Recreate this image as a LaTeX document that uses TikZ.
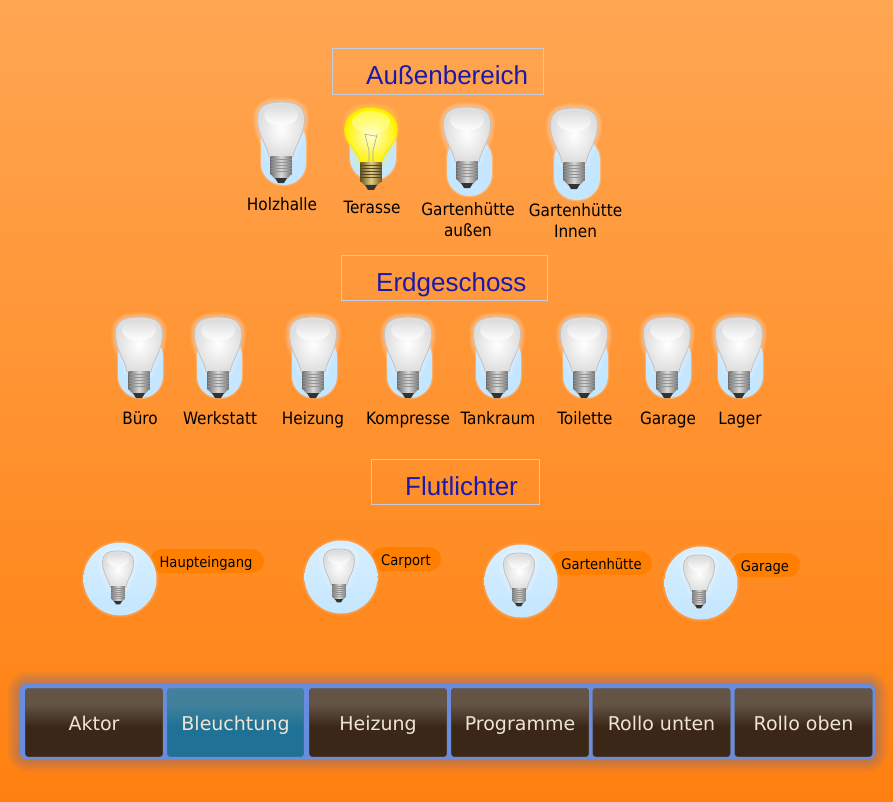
\documentclass[tikz,border=0pt]{standalone}
\usepackage{fontspec}
\setmainfont{DejaVu Sans Condensed}
\newfontfamily\titlefont{Liberation Sans}
\newfontfamily\menufont{DejaVu Sans}
\definecolor{BgTop}{RGB}{255,166,82}
\definecolor{BgBot}{RGB}{255,128,16}
\definecolor{TitleBlue}{RGB}{26,26,170}
\definecolor{TitleLine}{RGB}{196,204,226}
\definecolor{Pill}{RGB}{196,230,255}
\definecolor{Tag}{RGB}{255,128,0}
\definecolor{Bar}{RGB}{104,140,222}
\definecolor{MenuText}{RGB}{238,228,214}
\definecolor{BrownA}{RGB}{59,39,24}
\definecolor{BrownB}{RGB}{98,83,69}
\definecolor{BrownC}{RGB}{102,88,74}
\definecolor{BlueA}{RGB}{31,114,149}
\definecolor{BlueB}{RGB}{64,128,155}
\definecolor{BlueC}{RGB}{68,131,155}
\definecolor{Gold}{RGB}{150,125,50}
\definecolor{GoldLight}{RGB}{225,205,130}
\pgfdeclareverticalshading{btnbrown}{100bp}{color(0bp)=(BrownA);color(47bp)=(BrownA);color(63bp)=(BrownB);color(100bp)=(BrownC)}
\pgfdeclareverticalshading{btnblue}{100bp}{color(0bp)=(BlueA);color(47bp)=(BlueA);color(63bp)=(BlueB);color(100bp)=(BlueC)}
\tikzset{
  lamplabel/.style={font=\fontsize{17}{21}\selectfont,align=center,text=black,inner sep=0pt,anchor=base},
  taglabel/.style={font=\fontsize{14.6}{16}\selectfont,text=black,inner sep=0pt,anchor=base},
  titlebox/.style={draw=TitleLine,line width=.8pt,inner sep=0pt},
  titletext/.style={font=\titlefont\fontsize{26}{30}\selectfont,text=TitleBlue,inner sep=0pt,anchor=base west},
  menubtn/.style={shade,shading=btnbrown,draw=BrownB,rounded corners=3pt,minimum width=137.5pt,minimum height=68.5pt,
    inner sep=0pt,text=MenuText,font=\menufont\fontsize{19}{22}\selectfont,text height=17pt,text depth=2pt}
}
\newcommand{\glasspath}{(-12,55) .. controls (-14,42) and (-23.5,34) .. (-23.5,17) .. controls (-23.5,3) and (-14,0) .. (0,0)
  .. controls (14,0) and (23.5,3) .. (23.5,17) .. controls (23.5,34) and (14,42) .. (12,55) -- cycle}
\newcommand{\litglasspath}{(-10,55) .. controls (-12,42) and (-26,36) .. (-26,22) .. controls (-26,8) and (-14,0) .. (0,0)
  .. controls (14,0) and (26,8) .. (26,22) .. controls (26,36) and (12,42) .. (10,55) -- cycle}
\newcommand{\lamppill}[4]{\draw[white,opacity=.2,line width=2.5pt,rounded corners=22pt] (#1,#2) rectangle (#3,#4);
  \fill[Pill,rounded corners=22pt] (#1,#2) rectangle (#3,#4);}
\newcommand{\lampscrew}[3]{
  \shade[left color=#1,right color=#1,middle color=#2] (-10.5,54) rectangle (10.5,72);
  \foreach \s in {57,60,...,72}{\draw[#3,line width=.4pt] (-10.5,\s)--(10.5,\s);}
  \shade[left color=#1,right color=#1,middle color=#2] (-10.5,72)--(-6,77)--(6,77)--(10.5,72)--cycle;
  \fill[black!80] (-6,76)--(-3,81)--(3,81)--(6,76)--cycle;
}
\newcommand{\lampoff}[3]{
  \begin{scope}[shift={(#1,#2)},scale=#3]
    \foreach \w in {2,4,...,10}{\draw[white,opacity=.07,line width=\w pt,line join=round] \glasspath;}
    \shade[inner color=white,outer color=black!13] \glasspath;
    \draw[black!24,line width=.8pt] \glasspath;
    \shade[top color=black!14,bottom color=white] (0,13) ellipse (17 and 10.5);
    \lampscrew{black!55}{black!15}{black!42}
  \end{scope}
}
\newcommand{\lampon}[3]{
  \begin{scope}[shift={(#1,#2)},scale=#3]
    \foreach \w in {2,4,...,10}{\draw[yellow!70!white,opacity=.07,line width=\w pt,line join=round] \glasspath;}
    \shade[inner color=yellow!18!white,outer color=yellow!90!orange] \litglasspath;
    \draw[yellow!92!orange,line width=1.1pt] \litglasspath;
    \shade[top color=yellow!55!white,bottom color=yellow!25!white,opacity=.6] (0,14) ellipse (19 and 11);
    \draw[black!35,line width=.6pt] (-6,26)--(-2,42)--(-2,54) (6,26)--(2,42)--(2,54) (-6,26)--(6,28);
    \lampscrew{Gold!70!black}{GoldLight}{Gold!55!black}
  \end{scope}
}
\newcommand{\flutlamp}[3]{
  \draw[white,opacity=.12,line width=4pt] (#1,#2) circle (36.5);
  \shade[top color=Pill!65!white,bottom color=Pill] (#1,#2) circle (36.5);
  \lampoff{#1-2}{#2-28}{#3}
}
\begin{document}
\begin{tikzpicture}[x=1pt,y=-1pt]
\useasboundingbox (0,0) rectangle (893,801);
\shade[top color=BgTop,bottom color=BgBot] (0,0) rectangle (893,801);
\node[titlebox,minimum width=211pt,minimum height=46pt] (boxoutdoor) at (437.5,71) {};
\node[titletext] (titleoutdoor) at (366,84) {Außenbereich};
\node[titlebox,minimum width=206pt,minimum height=45pt] (boxground) at (444,277.5) {};
\node[titletext] (titleground) at (376,291) {Erdgeschoss};
\node[titlebox,minimum width=168pt,minimum height=45pt] (boxflood) at (455,481.5) {};
\node[titletext] (titleflood) at (405,495) {Flutlichter};
\lamppill{261}{120}{306}{185}\lampoff{281}{102}{1}
\lamppill{350}{120}{396}{180}\lampon{371}{108}{1.01}
\lamppill{447}{137}{492}{196}\lampoff{467}{107}{1}
\lamppill{554}{138}{600}{200}\lampoff{574}{108}{1}
\node[lamplabel] (lblholz) at (282,210) {Holzhalle};
\node[lamplabel] (lblterasse) at (372,213) {Terasse};
\node[lamplabel] (lblhuette) at (468,236) {Gartenhütte\\außen};
\node[lamplabel] (lblinnen) at (575.5,237) {Gartenhütte\\Innen};
\foreach \cx/\lx/\txt/\id in {139/140/Büro/a,218/220/Werkstatt/b,313/313/Heizung/c,408/408/Kompresse/d,497/498/Tankraum/e,584/585/Toilette/f,667/668/Garage/g,739/740/Lager/h}{
  \lamppill{\cx-21}{335}{\cx+24}{398}\lampoff{\cx}{317}{1}
  \node[lamplabel] (lbl\id) at (\lx,424) {\txt};
}
\foreach \cx/\cy/\tl/\tr/\tx/\txt/\id in {120/579/150/264/206/Haupteingang/a,341/577/371/441/406/Carport/b,521/581/550/652/601.5/Gartenhütte/c,701/583/730/800/765/Garage/d}{
  \fill[Tag,rounded corners=12pt] (\tl,\cy-30) rectangle (\tr,\cy-6);
  \flutlamp{\cx}{\cy}{.66}
  \node[taglabel] (tag\id) at (\tx,\cy-12) {\txt};
}
\foreach \w in {2,4,...,26}{\draw[black!15!Bar,opacity=.03,line width=\w pt,rounded corners=8pt] (20,684) rectangle (875,759);}
\node[fill=Bar,rounded corners=7pt,minimum width=855pt,minimum height=76pt,inner sep=0pt] (menubar) at (447.5,721.5) {};
\foreach \cx/\txt/\id in {94/Aktor/a,378/Heizung/c,520/Programme/d,661.5/Rollo unten/e,803.5/Rollo oben/f}{
  \node[menubtn] (btn\id) at (\cx,722.5) {\txt};
}
\node[menubtn,shading=btnblue,draw=BlueB,minimum width=136.5pt] (btnb) at (235.5,722.5) {Bleuchtung};
\end{tikzpicture}
\end{document}
